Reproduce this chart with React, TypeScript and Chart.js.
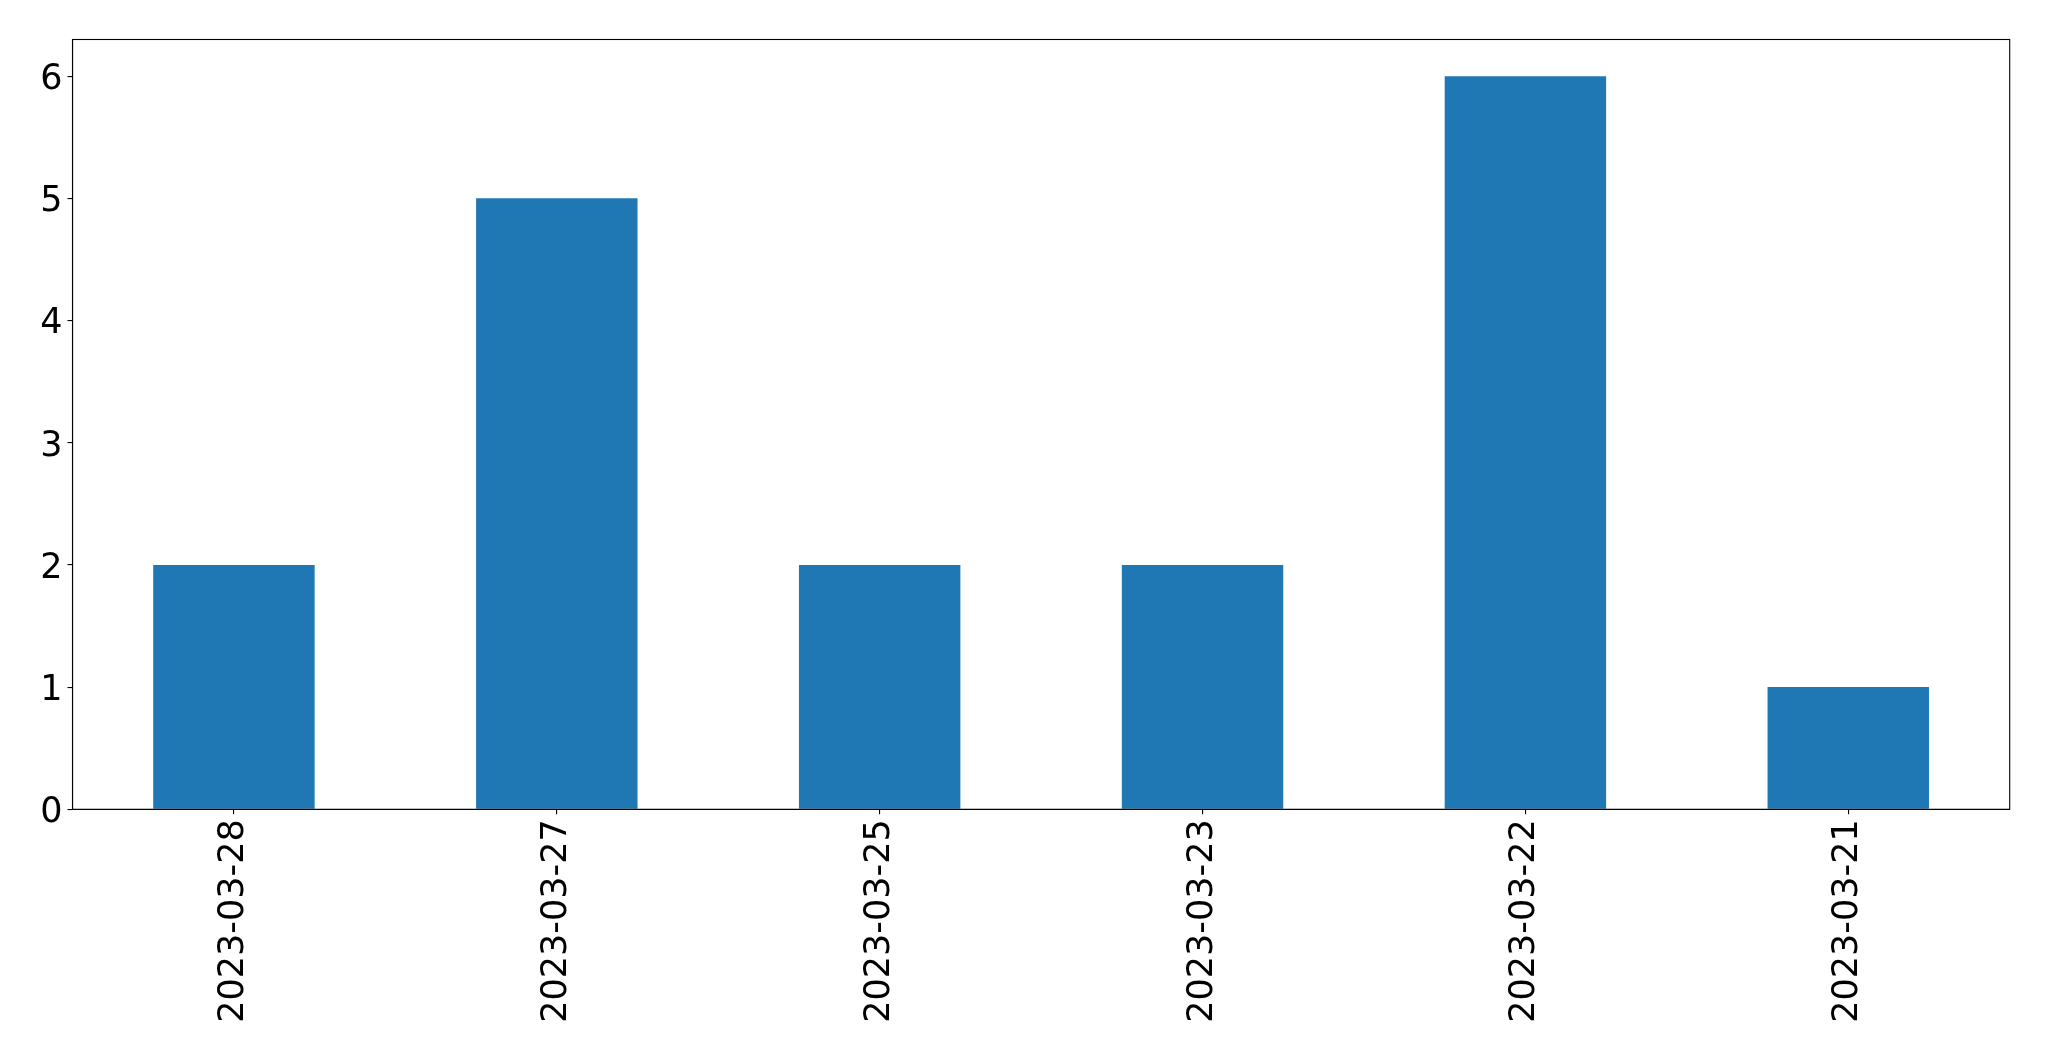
import React, { useEffect, useRef } from "react";
import { Chart, registerables } from "chart.js";

Chart.register(...registerables);

const categories = ["2023-03-28", "2023-03-27", "2023-03-25", "2023-03-23", "2023-03-22", "2023-03-21"];
const counts = [2, 5, 2, 2, 6, 1];
const yMax = 6.3;

const W = 2049;
const H = 1061;
const LEFT = 72.5;
const RIGHT = 2009.7;
const TOP = 39.5;
const BOTTOM = 809.3;
const FONT = { family: "DejaVu Sans", size: 35 };

const frame = {
  id: "frame",
  afterDatasetsDraw(chart: any) {
    const { ctx, chartArea } = chart;
    ctx.save();
    ctx.strokeStyle = "#000";
    ctx.lineWidth = 1.1;
    ctx.strokeRect(chartArea.left, chartArea.top, chartArea.right - chartArea.left, chartArea.bottom - chartArea.top);
    // y tick labels, vertically centred on the digit glyphs like matplotlib
    const y = chart.scales.y;
    ctx.fillStyle = "#000";
    ctx.font = `${FONT.size}px "${FONT.family}"`;
    ctx.textAlign = "right";
    ctx.textBaseline = "alphabetic";
    for (const t of y.ticks) {
      const py = y.getPixelForValue(t.value);
      ctx.fillText(String(t.label), chartArea.left - 10, py + FONT.size * 0.365);
    }
    ctx.restore();
  },
};

export default function App() {
  const ref = useRef<HTMLCanvasElement>(null);
  useEffect(() => {
    document.body.style.margin = "0";
    const chart = new Chart(ref.current!, {
      type: "bar",
      data: {
        labels: categories,
        datasets: [
          {
            data: counts,
            backgroundColor: "#1f77b4",
            barPercentage: 0.5,
            categoryPercentage: 1,
          },
        ],
      },
      options: {
        animation: false,
        responsive: false,
        devicePixelRatio: 1,
        layout: { padding: { top: TOP, right: W - RIGHT, left: 0, bottom: 0 } },
        plugins: { legend: { display: false }, tooltip: { enabled: false } },
        scales: {
          x: {
            offset: true,
            grid: { display: true, drawOnChartArea: false, drawTicks: true, tickLength: 5, color: "#000", lineWidth: 1.1, offset: false },
            border: { display: true, color: "#000", width: 1.1 },
            ticks: {
              minRotation: 90,
              maxRotation: 90,
              padding: 5,
              color: "#000",
              font: FONT,
              autoSkip: false,
            },
            afterFit(scale: any) {
              scale.height = H - BOTTOM;
            },
          },
          y: {
            min: 0,
            max: yMax,
            grid: { display: true, drawOnChartArea: false, drawTicks: true, tickLength: 5, color: "#000", lineWidth: 1.1 },
            border: { display: true, color: "#000", width: 1.1 },
            ticks: {
              stepSize: 1,
              includeBounds: false,
              display: false,
              padding: 5,
              color: "#000",
              font: FONT,
            },
            afterFit(scale: any) {
              scale.width = LEFT;
            },
          },
        },
      },
      plugins: [frame],
    });
    return () => chart.destroy();
  }, []);
  return (
    <div style={{ width: W, height: H, background: "#fff" }}>
      <canvas ref={ref} width={W} height={H} style={{ display: "block" }} />
    </div>
  );
}
